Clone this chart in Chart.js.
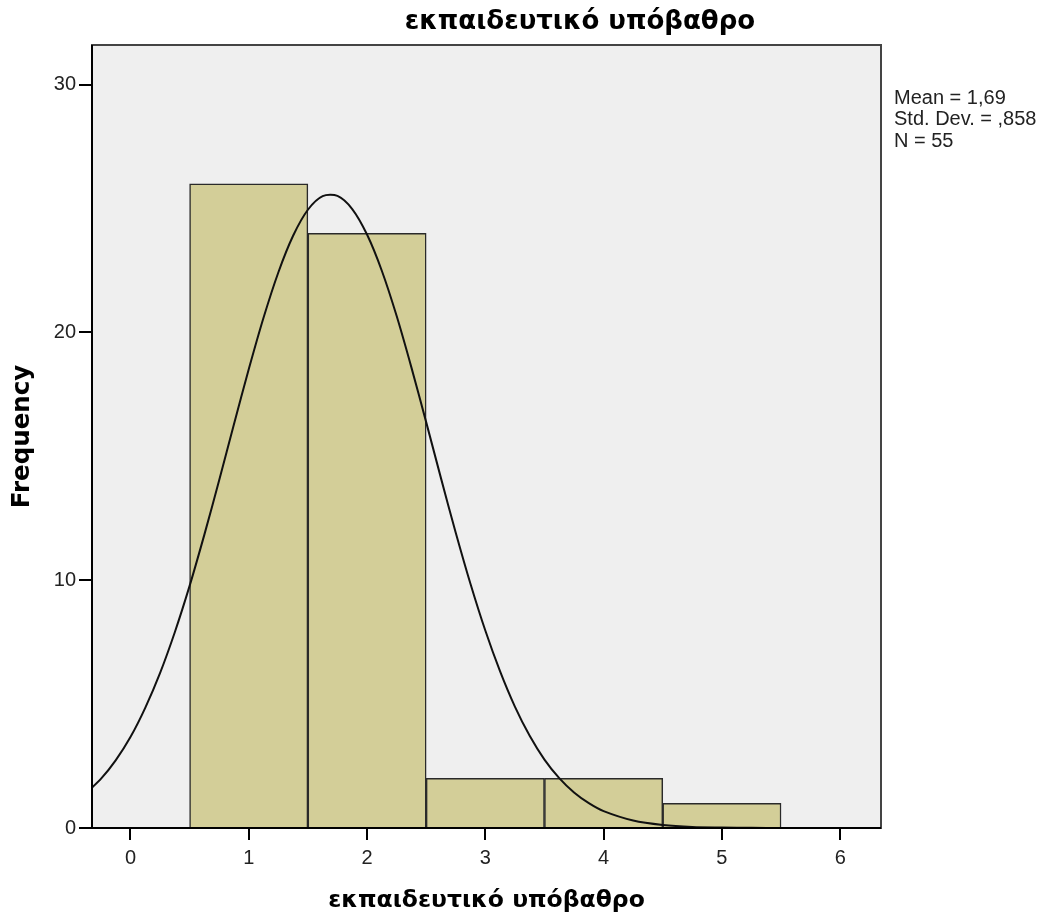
<!DOCTYPE html>
<html>
<head>
<meta charset="utf-8">
<script src="https://cdn.jsdelivr.net/npm/chart.js@4"></script>
<style>
  body { margin: 0; background: #fff; }
</style>
</head>
<body>
<canvas id="histogram" width="1048" height="917"></canvas>
<script>
// Histogram bins (centre of each bin) and their frequencies
const binCentres = [1, 2, 3, 4, 5];
const frequencies = [26, 24, 2, 2, 1];

// Normal curve
const curveX = [-0.375, -0.25, -0.125, 0, 0.125, 0.25, 0.375, 0.5, 0.625, 0.75, 0.875, 1, 1.125, 1.25, 1.375, 1.5, 1.625, 1.75, 1.875, 2, 2.125, 2.25, 2.375, 2.5, 2.625, 2.75, 2.875, 3, 3.125, 3.25, 3.375, 3.5, 3.625, 3.75, 3.875, 4, 4.25, 4.5, 4.75, 5, 5.25, 5.5];
const curveY = [1.41, 1.98, 2.73, 3.67, 4.85, 6.25, 7.9, 9.77, 11.84, 14.03, 16.29, 18.51, 20.59, 22.42, 23.9, 24.95, 25.5, 25.51, 24.98, 23.95, 22.49, 20.67, 18.59, 16.38, 14.12, 11.92, 9.85, 7.97, 6.32, 4.9, 3.72, 2.76, 2.01, 1.43, 1.0, 0.68, 0.3, 0.12, 0.04, 0.02, 0.01, 0];

// Axis ticks
const xTicks = [0, 1, 2, 3, 4, 5, 6];
const yTicks = [0, 10, 20, 30];

const chartTitle = "εκπαιδευτικό υπόβαθρο";
const statsLines = ["Mean = 1,69", "Std. Dev. = ,858", "N = 55"];

// Bakgrund, ram, rubrik och statistik-text
const frame = {
  id: "frame",
  beforeDatasetsDraw(chart) {
    const { ctx, chartArea: a } = chart;
    ctx.save();
    ctx.fillStyle = "#efefef";
    ctx.fillRect(a.left, a.top, a.right - a.left, a.bottom - a.top);
    ctx.restore();
  },
  afterDraw(chart) {
    const { ctx, chartArea: a } = chart;
    ctx.save();
    ctx.strokeStyle = "#444";
    ctx.lineWidth = 2;
    ctx.strokeRect(a.left, a.top, a.right - a.left, a.bottom - a.top);
    ctx.strokeStyle = "#000";
    ctx.beginPath();
    ctx.moveTo(a.left, a.top);
    ctx.lineTo(a.left, a.bottom);
    ctx.lineTo(a.right, a.bottom);
    ctx.stroke();

    ctx.fillStyle = "#000";
    ctx.font = "bold 26px 'DejaVu Sans'";
    ctx.textAlign = "center";
    ctx.textBaseline = "middle";
    ctx.fillText(chartTitle, 580, 22);

    ctx.fillStyle = "#222";
    ctx.font = "20px 'Liberation Sans'";
    ctx.textAlign = "left";
    statsLines.forEach((line, i) => ctx.fillText(line, 894, 98 + i * 21.5));
    ctx.restore();
  },
};

const data = {
  datasets: [
    {
      type: "line",
      data: curveX.map((x, i) => ({ x: x, y: curveY[i] })),
      borderColor: "#111",
      borderWidth: 2,
      pointRadius: 0,
      tension: 0.3,
      fill: false,
      order: 0,
    },
    {
      type: "bar",
      data: binCentres.map((x, i) => ({ x: x, y: frequencies[i] })),
      backgroundColor: "#d3ce98",
      borderColor: "#2a2a2a",
      borderWidth: 1.5,
      barPercentage: 1,
      categoryPercentage: 1,
      order: 1,
    },
  ],
};

const config = {
  type: "bar",
  data,
  plugins: [frame],
  options: {
    responsive: false,
    animation: false,
    layout: {
      padding: { top: 45, right: 167, left: 0, bottom: 0 },
    },
    plugins: {
      legend: { display: false },
      tooltip: { enabled: false },
    },
    scales: {
      x: {
        type: "linear",
        min: -0.325,
        max: 6.345,
        offset: false,
        afterFit: (scale) => (scale.height = 89),
        afterBuildTicks: (axis) => (axis.ticks = xTicks.map((v) => ({ value: v }))),
        grid: { offset: false, drawOnChartArea: false, tickLength: 12, color: "#000", lineWidth: 2 },
        border: { display: false },
        ticks: { color: "#222", padding: 6, font: { family: "Liberation Sans", size: 20 } },
        title: {
          display: true,
          text: chartTitle,
          color: "#000",
          padding: { top: 0, bottom: 2 },
          font: { family: "DejaVu Sans", size: 23.5, weight: "bold" },
        },
      },
      y: {
        min: 0,
        max: 31.6,
        afterFit: (scale) => (scale.width = 92),
        afterBuildTicks: (axis) => (axis.ticks = yTicks.map((v) => ({ value: v }))),
        grid: { drawOnChartArea: false, tickLength: 13, color: "#000", lineWidth: 2 },
        border: { display: false },
        ticks: { color: "#222", padding: 3, font: { family: "Liberation Sans", size: 20 } },
        title: {
          display: true,
          text: "Frequency",
          color: "#000",
          padding: { top: 8, bottom: 0 },
          font: { family: "DejaVu Sans", size: 24.5, weight: "bold" },
        },
      },
    },
  },
};

const canvas = document.getElementById("histogram");
const myChart = new Chart(canvas, config);
</script>
</body>
</html>
